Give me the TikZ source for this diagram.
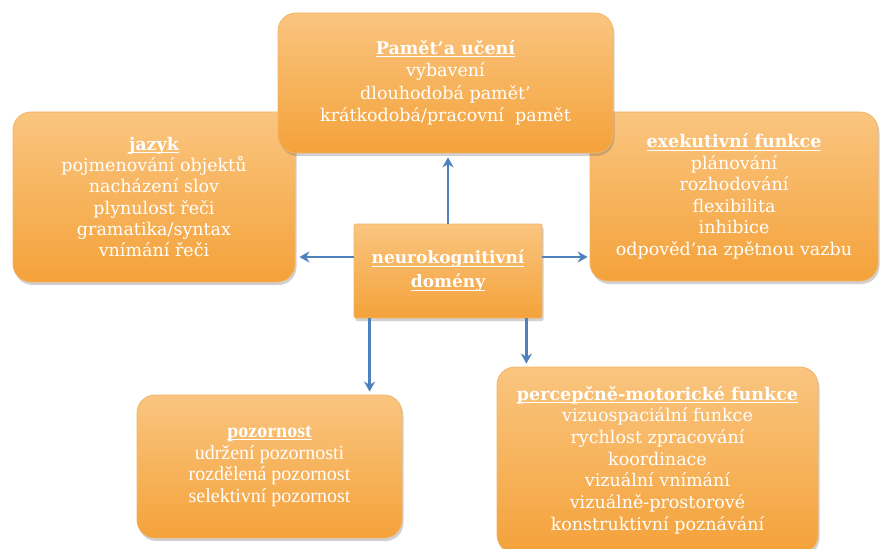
\documentclass[tikz,border=0pt]{standalone}
\usepackage{fontspec}
\setmainfont{DejaVu Serif}
\newfontfamily\timesfont{Liberation Serif}
\usetikzlibrary{shadows,arrows.meta}
\definecolor{boxtop}{HTML}{FAC580}
\definecolor{boxbot}{HTML}{F4A23A}
\definecolor{boxedge}{HTML}{F2B465}
\definecolor{arrowblue}{HTML}{4F81BD}
\newcommand\ulin[1]{\setbox0\hbox{#1}\rlap{\rule[-2.6pt]{\wd0}{0.9pt}}\box0}
\begin{document}
\begin{tikzpicture}[x=1pt,y=-1pt,
  dombox/.style={rounded corners=18pt, top color=boxtop, bottom color=boxbot,
    draw=boxedge, line width=0.8pt,
    drop shadow={shadow xshift=1.5pt,shadow yshift=-3pt,opacity=0.3,fill=black!60},
    text=white, align=center, font=\fontsize{17.5}{22}\selectfont, inner sep=0pt},
  centerbox/.style={dombox, rounded corners=2pt, font=\bfseries\fontsize{17}{24}\selectfont},
  arr/.style={draw=arrowblue, line width=2.8pt, -{Stealth[length=10pt,width=11pt]}}]
\useasboundingbox (0,0) rectangle (882,548);

\node[dombox, minimum width=282pt, minimum height=170pt, font=\fontsize{17.5}{21.2}\selectfont] (lang) at (154,197)
  {{\bfseries\ulin{jazyk}}\\pojmenování objektů\\nacházení slov\\plynulost řeči\\gramatika/syntax\\vnímání řeči};
\node[dombox, minimum width=288pt, minimum height=169pt, font=\fontsize{17.5}{21.5}\selectfont] (exec) at (734,196.5)
  {{\bfseries\ulin{exekutivní funkce}}\\plánování\\rozhodování\\flexibilita\\inhibice\\odpověd'na zpětnou vazbu};
\node[dombox, minimum width=335pt, minimum height=140pt, font=\fontsize{17.5}{22.5}\selectfont] (mem) at (445.5,83)
  {{\bfseries\ulin{Pamět'a učení}}\\vybavení\\dlouhodobá pamět'\\krátkodobá/pracovní\ \ pamět};
\node[centerbox, minimum width=188pt, minimum height=94pt] (center) at (448,271)
  {\ulin{neurokognitivní}\\\ulin{domény}};
\node[dombox, minimum width=265pt, minimum height=143pt, font=\timesfont\fontsize{20}{21.7}\selectfont] (att) at (269.5,466.5)
  {{\bfseries\ulin{pozornost}}\\udržení pozornosti\\rozdělená pozornost\\selektivní pozornost};
\node[dombox, minimum width=321pt, minimum height=186pt, font=\fontsize{17.5}{21.7}\selectfont] (perc) at (657.5,460)
  {{\bfseries\ulin{percepčně-motorické funkce}}\\vizuospaciální funkce\\rychlost zpracování\\koordinace\\vizuální vnímání\\vizuálně-prostorové\\konstruktivní poznávání};

\draw[arr] (center.north) -- ([yshift=-4pt]center.north |- mem.south);
\draw[arr] ([yshift=14pt]center.west) -- ([yshift=14pt,xshift=4pt]center.west -| lang.east);
\draw[arr] ([yshift=14pt]center.east) -- ([yshift=14pt,xshift=-2pt]center.east -| exec.west);
\draw[arr] ([xshift=16pt]center.south west) -- ([xshift=16pt,yshift=3pt]center.south west |- att.north);
\draw[arr] ([xshift=-16pt]center.south east) -- ([xshift=-16pt,yshift=3pt]center.south east |- perc.north);
\end{tikzpicture}
\end{document}
